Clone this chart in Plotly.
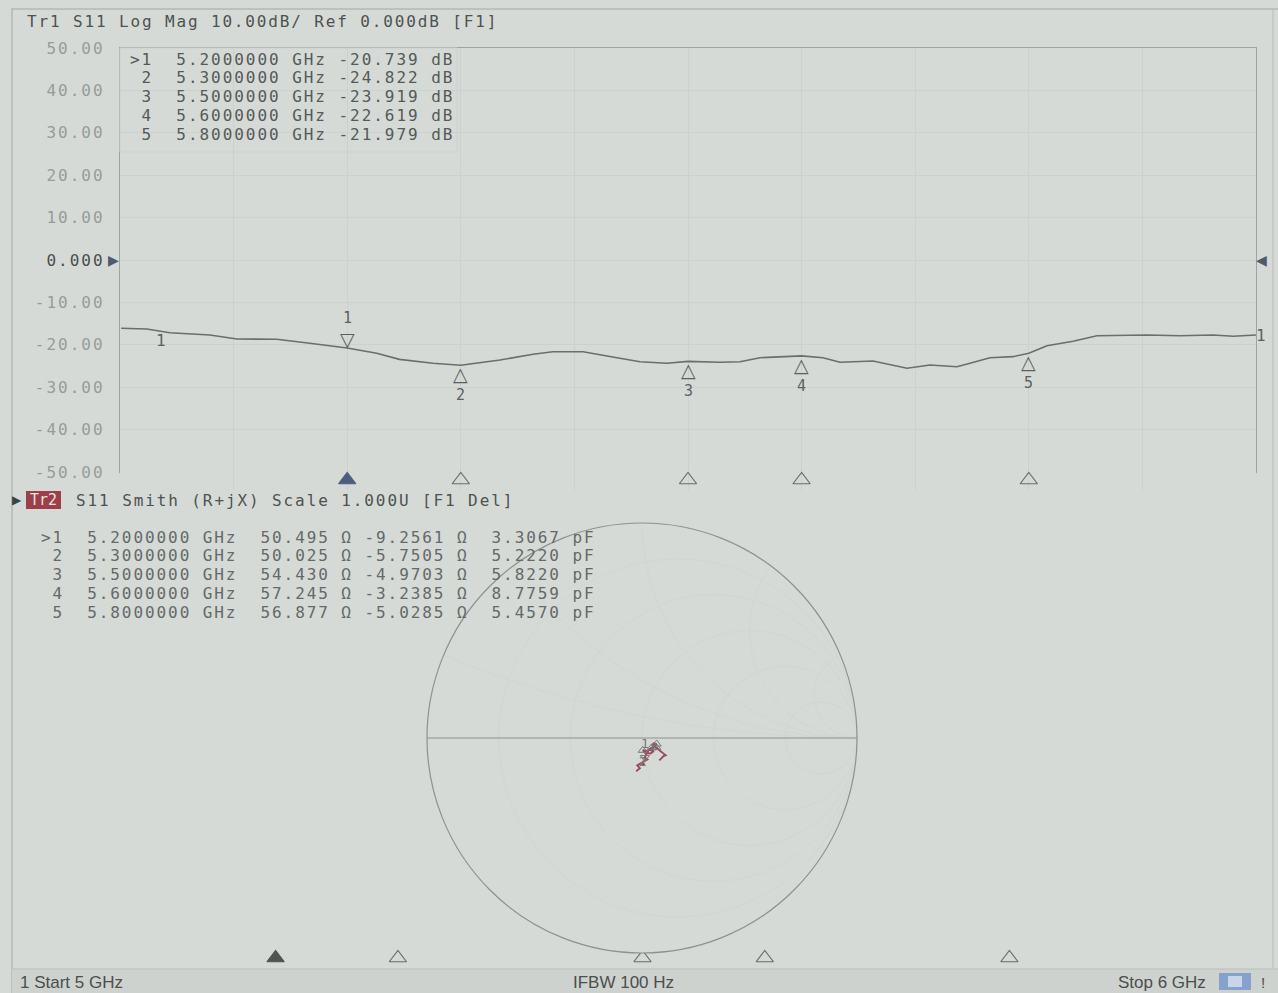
import plotly.graph_objects as go
import numpy as np

W, H = 1278, 993

# ---------------- data ----------------
freq_ghz = [5.001, 5.0235, 5.044, 5.079, 5.103, 5.138, 5.167, 5.2, 5.226, 5.246,
            5.2755, 5.3, 5.3345, 5.3636, 5.381, 5.4076, 5.4375, 5.4577, 5.4815, 5.5,
            5.528, 5.5458, 5.5634, 5.6, 5.6188, 5.6338, 5.6629, 5.6778, 5.6928, 5.713,
            5.7368, 5.7482, 5.7658, 5.786, 5.8, 5.816, 5.839, 5.86, 5.904, 5.933,
            5.962, 5.98, 6.0]
s11_db = [-16.11, -16.27, -17.15, -17.69, -18.63, -18.70, -19.65, -20.739, -22.00, -23.43,
          -24.36, -24.822, -23.58, -22.24, -21.63, -21.63, -23.04, -23.98, -24.36, -23.919,
          -24.13, -23.98, -23.04, -22.619, -23.04, -24.13, -23.82, -24.76, -25.54, -24.76,
          -25.16, -24.36, -23.04, -22.80, -21.979, -20.20, -19.18, -17.85, -17.69, -17.85,
          -17.69, -18.00, -17.69]

mk_id = ["1", "2", "3", "4", "5"]
mk_freq = [5.2, 5.3, 5.5, 5.6, 5.8]
mk_db = [-20.739, -24.822, -23.919, -22.619, -21.979]
mk_r_ohm = [50.495, 50.025, 54.430, 57.245, 56.877]
mk_x_ohm = [-9.2561, -5.7505, -4.9703, -3.2385, -5.0285]
mk_c_pf = [3.3067, 5.2220, 5.8220, 8.7759, 5.4570]

ytick_vals = [50, 40, 30, 20, 10, 0, -10, -20, -30, -40, -50]
ytick_text = ["50.00", "40.00", "30.00", "20.00", "10.00", "0.000",
              "-10.00", "-20.00", "-30.00", "-40.00", "-50.00"]

# Smith trace (reflection coefficient)
gamma_re = [-0.027, -0.010, -0.022, -0.005, 0.010, 0.004, 0.025, 0.013, 0.020, 0.010, 0.0035,
            0.030, 0.022, 0.040, 0.055, 0.030, 0.0446, 0.062, 0.050, 0.0684, 0.055, 0.045,
            0.058, 0.050, 0.0664, 0.085, 0.095, 0.110, 0.100, 0.090, 0.080]
gamma_im = [-0.155, -0.140, -0.128, -0.117, -0.125, -0.110, -0.100, -0.091, -0.075, -0.063, -0.057,
            -0.062, -0.070, -0.072, -0.060, -0.055, -0.0455, -0.040, -0.047, -0.0281, -0.030, -0.035,
            -0.022, -0.040, -0.0439, -0.060, -0.068, -0.080, -0.084, -0.095, -0.104]
z0 = 50.0

start_text = "1 Start 5 GHz"
ifbw_text = "IFBW 100 Hz"
stop_text = "Stop 6 GHz"

# ---------------- helpers ----------------
def PX(x):
    return x / W

def PY(y):
    return 1 - y / H

BG = "#d5dad7"
TXT = "#4e5250"
MONO = "DejaVu Sans Mono"

def spaced(text, ls):
    return f"<span style='letter-spacing:{ls}px'>{text}</span>"

g = np.array(gamma_re) + 1j * np.array(gamma_im)
z = (1 + g) / (1 - g)
mk_z = (np.array(mk_r_ohm) + 1j * np.array(mk_x_ohm)) / z0

fig = go.Figure()

fig.add_trace(go.Scatter(x=freq_ghz, y=s11_db, mode="lines",
                         line=dict(color="#6a6e6c", width=1.6),
                         xaxis="x", yaxis="y", showlegend=False, hoverinfo="skip"))

fig.add_trace(go.Scatter(x=mk_freq, y=[0.5] * len(mk_freq), mode="markers",
                         marker=dict(symbol=["triangle-up"] + ["triangle-up-open"] * 4,
                                     size=15, color=["#4d5d80"] + ["#6a6e6c"] * 4,
                                     line=dict(width=1.2, color=["#4d5d80"] + ["#6a6e6c"] * 4)),
                         xaxis="x", yaxis="y3", showlegend=False, cliponaxis=False, hoverinfo="skip"))

fig.add_trace(go.Scatter(x=mk_freq, y=[0.5] * len(mk_freq), mode="markers",
                         marker=dict(symbol=["triangle-up"] + ["triangle-up-open"] * 4,
                                     size=15, color=["#505452"] + ["#6a6e6c"] * 4,
                                     line=dict(width=1.2, color=["#505452"] + ["#6a6e6c"] * 4)),
                         xaxis="x2", yaxis="y2", showlegend=False, cliponaxis=False, hoverinfo="skip"))

fig.add_trace(go.Scattersmith(real=z.real, imag=z.imag, mode="lines",
                              line=dict(color="#9c4a5a", width=1.9),
                              subplot="smith", showlegend=False, hoverinfo="skip"))
fig.add_trace(go.Scattersmith(real=mk_z.real, imag=mk_z.imag, mode="markers+text",
                              marker=dict(symbol=["triangle-down-open"] + ["triangle-up-open"] * 4,
                                          size=8, color="#777b79"),
                              text=["1", "2", "", "", ""],
                              textposition=["top center", "bottom center", "bottom center",
                                            "bottom center", "bottom center"],
                              textfont=dict(family=MONO, size=13, color="#777b79"),
                              subplot="smith", showlegend=False, hoverinfo="skip"))

def note(text, x, y, xanchor="left", size=16, color=TXT, family=MONO, xref="paper", yref="paper",
         yanchor="middle", xshift=0, yshift=0):
    return dict(text=text, x=x, y=y, xref=xref, yref=yref, xanchor=xanchor, yanchor=yanchor,
                showarrow=False, xshift=xshift, yshift=yshift,
                font=dict(family=family, size=size, color=color))

ann = []
ann.append(note(spaced("Tr1 S11 Log Mag 10.00dB/ Ref 0.000dB [F1]", 1.86), PX(25), PY(22), size=16))
for i in range(len(mk_id)):
    lab = (">" if i == 0 else " ") + mk_id[i]
    row = f"{lab}  {mk_freq[i]:.7f} GHz {mk_db[i]:.3f} dB"
    ann.append(note(spaced(row.replace(" ", "&nbsp;"), 1.95), PX(128), PY(59 + 18.8 * i),
                    size=16, color="#555957"))
for i in range(len(mk_id)):
    if i == 0:
        ann.append(note("▽", mk_freq[i], mk_db[i], xanchor="center", yanchor="bottom", yshift=-4,
                        size=19, family="DejaVu Sans", color="#5c605e", xref="x", yref="y"))
        ann.append(note(mk_id[i], mk_freq[i], mk_db[i], xanchor="center", yanchor="bottom",
                        yshift=19, size=15, color="#5c605e", xref="x", yref="y"))
    else:
        ann.append(note("△", mk_freq[i], mk_db[i], xanchor="center", yanchor="top", yshift=4,
                        size=19, family="DejaVu Sans", color="#5c605e", xref="x", yref="y"))
        ann.append(note(mk_id[i], mk_freq[i], mk_db[i], xanchor="center", yanchor="top",
                        yshift=-19, size=15, color="#5c605e", xref="x", yref="y"))
ann.append(note("1", freq_ghz[2] - 0.008, s11_db[2], xanchor="center", yanchor="top", yshift=4,
                size=16, color="#5c605e", xref="x", yref="y"))
ann.append(note("1", freq_ghz[-1], s11_db[-1], xanchor="left", xshift=-2,
                size=16, color="#5c605e", xref="x", yref="y"))
ann.append(note("▶", PX(113), PY(260), xanchor="center", size=14, family="DejaVu Sans",
                color="#4f5a6a"))
ann.append(note("◀", PX(1261), PY(260), xanchor="center", size=14, family="DejaVu Sans",
                color="#4f5a6a"))
ann.append(note("▶", PX(17), PY(500), xanchor="center", size=12, family="DejaVu Sans",
                color="#3e4240"))
ann.append(note("Tr2", PX(43.5), PY(500), xanchor="center", size=15, color="#f0e4e4"))
ann.append(note(spaced("S11 Smith (R+jX) Scale 1.000U [F1 Del]", 1.9), PX(74), PY(500), size=16))
for i in range(len(mk_id)):
    lab = (">" if i == 0 else " ") + mk_id[i]
    row = (f"{lab}  {mk_freq[i]:.7f} GHz  {mk_r_ohm[i]:.3f} Ω {mk_x_ohm[i]:.4f} Ω  "
           f"{mk_c_pf[i]:.4f} pF")
    ann.append(note(spaced(row.replace(" ", "&nbsp;"), 1.92), PX(39), PY(537 + 18.8 * i),
                    size=16, color="#656967"))
SB = "Liberation Sans Narrow, Liberation Sans"
ann.append(note(start_text, PX(18), PY(982), size=17, family=SB, color="#4a4e4c"))
ann.append(note(ifbw_text, PX(623), PY(982), xanchor="center", size=17, family=SB, color="#4a4e4c"))
ann.append(note(stop_text, PX(1208), PY(982), xanchor="right", size=17, family=SB, color="#4a4e4c"))
ann.append(note("!", PX(1263), PY(982), xanchor="center", size=15, family=SB, color="#4a4e4c"))

shapes = [
    dict(type="line", xref="paper", yref="paper", x0=PX(12), x1=PX(12), y0=PY(8), y1=PY(993),
         line=dict(color="#b3b8b5", width=1.5)),
    dict(type="line", xref="paper", yref="paper", x0=PX(12), x1=PX(1278), y0=PY(9), y1=PY(9),
         line=dict(color="#b3b8b5", width=1.5)),
    dict(type="line", xref="paper", yref="paper", x0=PX(1273), x1=PX(1273), y0=PY(9), y1=PY(968),
         line=dict(color="#bcc1be", width=1.2)),
    dict(type="rect", xref="paper", yref="paper", x0=PX(12), x1=PX(1278), y0=PY(993), y1=PY(969),
         fillcolor="#cdd2cf", line=dict(width=0)),
    dict(type="line", xref="paper", yref="paper", x0=PX(12), x1=PX(1278), y0=PY(969), y1=PY(969),
         line=dict(color="#b8bdba", width=1)),
    dict(type="rect", xref="paper", yref="paper", x0=PX(1219), x1=PX(1251), y0=PY(990), y1=PY(973),
         fillcolor="#86a2cc", line=dict(width=0)),
    dict(type="rect", xref="paper", yref="paper", x0=PX(1228), x1=PX(1242), y0=PY(987), y1=PY(976),
         fillcolor="#c9d6ea", line=dict(width=0)),
    dict(type="rect", xref="paper", yref="paper", x0=PX(120), x1=PX(457), y0=PY(48), y1=PY(152),
         line=dict(color="#cdd2cf", width=1)),
    dict(type="rect", xref="paper", yref="paper", x0=PX(26), x1=PX(61), y0=PY(491), y1=PY(509),
         fillcolor="#9b4049", line=dict(width=0)),
]

fig.update_layout(
    width=W, height=H, margin=dict(l=0, r=0, t=0, b=0, pad=0, autoexpand=False),
    paper_bgcolor=BG, plot_bgcolor=BG, showlegend=False,
    annotations=ann, shapes=shapes,
    xaxis=dict(domain=[PX(120), PX(1256)], range=[5, 6], dtick=0.1, tick0=5, automargin=False,
               showticklabels=False, ticks="", showgrid=True, gridcolor="#ccd1ce", gridwidth=1,
               showline=True, linecolor="#9fa4a1", linewidth=1.2, mirror=True, zeroline=False,
               anchor="y", fixedrange=True),
    yaxis=dict(domain=[PY(472), PY(48)], range=[-50, 50], tickvals=ytick_vals, automargin=False,
               ticktext=[(f"<span style='color:#4a4e4c;letter-spacing:2px'>{t}</span>" if v == 0
                          else spaced(t, 2)) for v, t in zip(ytick_vals, ytick_text)],
               tickfont=dict(family=MONO, size=16, color="#979c99"),
               ticks="outside", ticklen=11, tickcolor="rgba(0,0,0,0)",
               showgrid=True, gridcolor="#ccd1ce", gridwidth=1, zeroline=False,
               showline=True, linecolor="#9fa4a1", linewidth=1.2, mirror=True,
               anchor="x", fixedrange=True),
    yaxis3=dict(domain=[PY(490), PY(470)], range=[0, 1], visible=False, anchor="x",
                automargin=False, fixedrange=True),
    xaxis2=dict(domain=[PX(31), PX(1254)], range=[5, 6], visible=False, anchor="y2",
                automargin=False, fixedrange=True),
    yaxis2=dict(domain=[PY(968), PY(948)], range=[0, 1], visible=False, anchor="x2",
                automargin=False, fixedrange=True),
    smith=dict(
        domain=dict(x=[PX(427), PX(857)], y=[PY(953), PY(523)]),
        bgcolor=BG,
        realaxis=dict(tickvals=[0.2, 0.5, 1, 2, 5], showticklabels=False, ticks="",
                      gridcolor="#d1d6d3", linecolor="#8d928f", linewidth=1.2, showline=True),
        imaginaryaxis=dict(tickvals=[0.2, 0.5, 1, 2, 5], showticklabels=False, ticks="",
                           gridcolor="#d1d6d3", linecolor="#8d928f", linewidth=1.2, showline=True),
    ),
)

fig.write_html("out.html", config={"displayModeBar": False, "staticPlot": True},
               post_script="document.body.style.margin='0';document.body.style.overflow='hidden';")
